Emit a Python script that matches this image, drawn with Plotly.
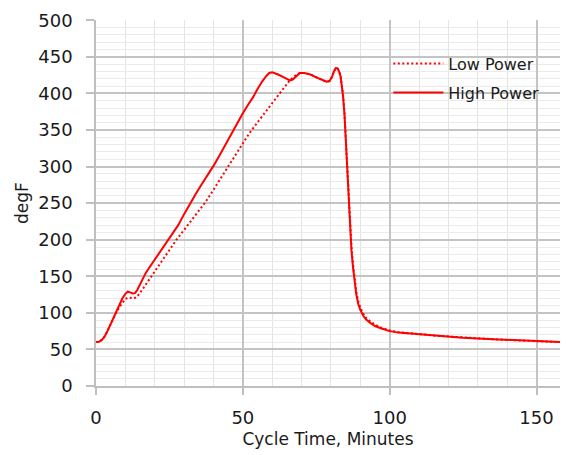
import plotly.graph_objects as go

# ---- data ----
high_t = [0, 1, 2, 3, 4, 5, 6, 7, 8, 9, 10, 10.8, 11.6, 12.5, 13.3, 14, 15, 16, 17, 18, 19, 20,
          22, 24, 26, 28, 30, 32, 34, 36, 38, 40, 42, 44, 46, 48, 50, 52, 53.5, 55, 56.5, 58, 59,
          60, 61, 62, 64, 66, 67, 68, 69.4, 71, 73, 75, 77, 78.5, 79.5, 80.3, 81, 81.7, 82.3,
          82.8, 83.3, 83.7, 84.1, 84.6, 85, 85.4, 85.8, 86.2, 86.6, 87, 87.5, 88, 88.6, 89.3,
          90, 91, 92, 93.5, 95, 97, 100, 103, 106, 110, 115, 120, 125, 130, 135, 140, 145, 150,
          155, 158]
high_y = [60, 60.5, 63, 68, 76, 85, 95, 104, 112, 120, 126, 129, 128, 126.5, 127, 131, 139, 148,
          155, 161, 167, 172, 184, 196, 208, 220, 235, 250, 263, 276, 288, 301, 315, 330, 344,
          358, 373, 386, 395, 406, 416, 424, 428, 429, 428, 426, 422, 418, 419, 423, 428, 428,
          426, 422, 418, 416, 417, 422, 430, 435, 434, 430, 423, 412, 397, 372, 340, 305, 270,
          238, 208, 185, 163, 143, 126, 112, 104, 96, 91, 86, 82, 79, 75, 73, 72, 70.5, 69,
          67.5, 66, 65, 64, 63, 62, 61, 60.5, 60]

low_t = [0, 1, 2, 3, 4, 5, 6, 7, 8, 9, 10, 11, 12, 13, 14, 15, 16, 17, 18, 19, 20, 22, 24, 26,
         27.4, 30, 33, 35, 37, 39, 41, 43, 45, 47, 49, 51.3, 53, 55.8, 58, 60.3, 62, 63.7, 65,
         66, 67, 68, 69.4, 71, 73, 75, 77, 78.5, 79.5, 80.3, 81, 81.7, 82.3, 82.8, 83.3, 83.7,
         84.1, 84.6, 85, 85.4, 85.8, 86.2, 86.6, 87, 87.5, 88, 88.6, 89.3, 90, 91, 92, 93.5, 95,
         97, 100, 103, 106, 110, 115, 120, 125, 130, 135, 140, 145, 150, 155, 158]
low_y = [60, 60.5, 63, 68, 76, 85, 94, 101, 108, 114, 119, 121, 120.5, 120, 122, 127, 133, 139,
         145, 151, 157, 168, 180, 193, 200, 213.5, 229, 239.5, 250, 262, 275, 288, 300, 313, 326,
         340, 350, 365, 377, 388, 397, 406, 413, 418, 422, 425, 428, 428, 426, 422, 418, 416,
         417, 422, 430, 435, 434, 430, 423, 413, 399, 375, 344, 309, 274, 242, 212, 189, 167,
         147, 130, 116, 107, 99, 93, 88, 84, 80, 76, 73.5, 72, 71, 69, 67.5, 66, 65, 64, 63,
         62, 61, 60.5, 60]

x_ticks = [0, 50, 100, 150]
y_ticks = [0, 50, 100, 150, 200, 250, 300, 350, 400, 450, 500]

RED = "#FF0000"
FONT = "DejaVu Sans"

fig = go.Figure()
fig.add_trace(go.Scatter(x=low_t, y=low_y, mode="lines", name="Low Power",
                         legendgroup="a",
                         line=dict(color=RED, width=2, dash="2px,2.5px")))
fig.add_trace(go.Scatter(x=high_t, y=high_y, mode="lines", name="High Power",
                         legendgroup="b",
                         line=dict(color=RED, width=2)))

fig.update_layout(
    width=566, height=455,
    margin=dict(l=96, r=6, t=20, b=69, autoexpand=False),
    paper_bgcolor="white", plot_bgcolor="white",
    font=dict(family=FONT, size=18, color="#1a1a1a"),
    legend=dict(x=0.63, y=0.927, xanchor="left", yanchor="top",
                bgcolor="rgba(0,0,0,0)", font=dict(size=16, color="#1a1a1a"),
                itemwidth=50, traceorder="grouped", tracegroupgap=5),
    xaxis=dict(
        range=[0, 158], tickvals=x_ticks, automargin=False,
        showgrid=True, gridcolor="#c4c4c4", gridwidth=1.5,
        minor=dict(dtick=10, showgrid=True, gridcolor="#e4e4e4", gridwidth=1),
        showline=True, linecolor="#bfbfbf", linewidth=1.5,
        ticks="outside", ticklen=7, tickcolor="#bfbfbf", tickwidth=1.5,
        zeroline=False, ticklabelstandoff=8,
        title=dict(text="Cycle Time, Minutes", standoff=6, font=dict(size=17)),
    ),
    yaxis=dict(
        range=[0, 500.5], tickvals=y_ticks, automargin=False,
        showgrid=True, gridcolor="#c4c4c4", gridwidth=1.5,
        minor=dict(dtick=10, showgrid=True, gridcolor="#ebebeb", gridwidth=1),
        showline=True, linecolor="#bfbfbf", linewidth=1.5,
        ticks="outside", ticklen=8, tickcolor="#bfbfbf", tickwidth=1.5,
        zeroline=False, ticklabelstandoff=10,
        title=dict(text="degF", standoff=5, font=dict(size=17)),
    ),
)

fig.write_html("out.html", config={"displayModeBar": False},
               post_script="document.body.style.margin='0';")
